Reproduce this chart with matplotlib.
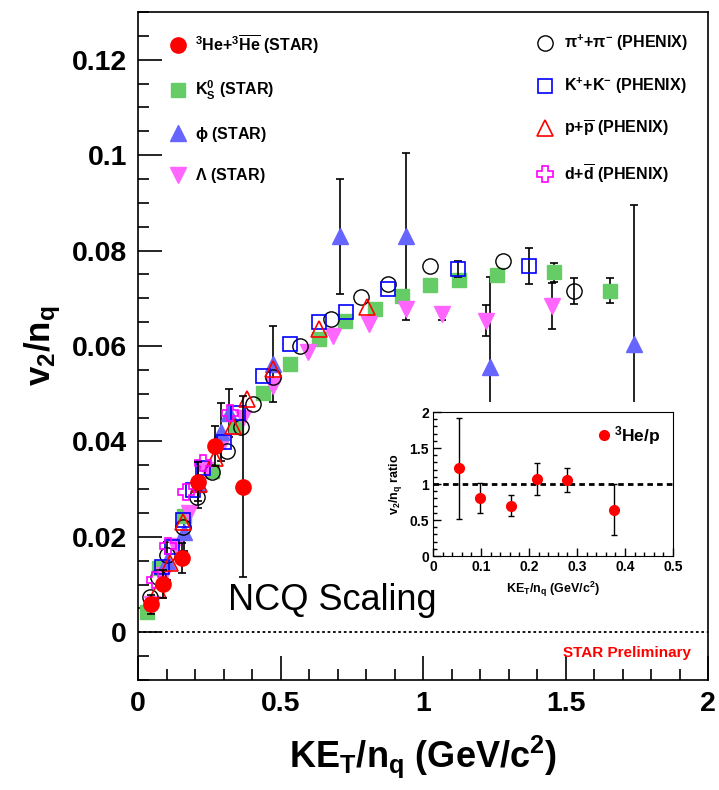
import numpy as np
import matplotlib
matplotlib.use('Agg')
import matplotlib.pyplot as plt
from matplotlib.lines import Line2D

plt.rcParams['font.family'] = ['Liberation Sans', 'DejaVu Sans']
plt.rcParams['font.weight'] = 'bold'
plt.rcParams['mathtext.fontset'] = 'custom'
plt.rcParams['mathtext.rm'] = 'Liberation Sans:bold'
plt.rcParams['mathtext.bf'] = 'Liberation Sans:bold'
plt.rcParams['mathtext.it'] = 'Liberation Sans:bold'
plt.rcParams['mathtext.default'] = 'rm'

# ---- data (0 error = no visible bar) ----
# 3He + anti-3He (STAR)
he3_x = [0.046, 0.088, 0.155, 0.211, 0.271, 0.370]
he3_y = [0.0059, 0.0101, 0.0156, 0.0316, 0.0390, 0.0305]
he3_e = [0.0020, 0.0030, 0.0032, 0.0040, 0.0042, 0.0190]

# K0s (STAR)
k0s_x = [0.032, 0.075, 0.163, 0.258, 0.345, 0.440, 0.535, 0.634, 0.725,
         0.830, 0.925, 1.025, 1.127, 1.260, 1.460, 1.655]
k0s_y = [0.0042, 0.0135, 0.0243, 0.0337, 0.0430, 0.0502, 0.0562, 0.0615,
         0.0653, 0.0678, 0.0705, 0.0728, 0.0738, 0.0748, 0.0755, 0.0716]
k0s_e = [0.0010, 0, 0, 0, 0, 0, 0, 0, 0, 0, 0, 0, 0, 0, 0.0020, 0.0026]

# phi (STAR)
phi_x = [0.100, 0.160, 0.210, 0.290, 0.320, 0.472, 0.708, 0.940, 1.236, 1.740]
phi_y = [0.0150, 0.0210, 0.0310, 0.0420, 0.0460, 0.0562, 0.0830, 0.0830,
         0.0555, 0.0605]
phi_e = [0.0040, 0.0040, 0.0050, 0.0060, 0.0050, 0.0080, 0.0120, 0.0175,
         0.0190, 0.0290]

# Lambda (STAR)
lam_x = [0.050, 0.090, 0.130, 0.180, 0.240, 0.300, 0.370, 0.472, 0.595,
         0.683, 0.810, 0.940, 1.067, 1.220, 1.454]
lam_y = [0.0060, 0.0120, 0.0180, 0.0250, 0.0340, 0.0400, 0.0450, 0.0516,
         0.0587, 0.0621, 0.0646, 0.0678, 0.0667, 0.0653, 0.0684]
lam_e = [0, 0, 0, 0, 0, 0, 0, 0, 0, 0, 0, 0, 0.0012, 0.0033, 0.0049]

# pi+ + pi- (PHENIX)
pi_x = [0.042, 0.070, 0.102, 0.158, 0.208, 0.260, 0.313, 0.360, 0.405,
        0.475, 0.570, 0.676, 0.782, 0.877, 1.025, 1.282, 1.530]
pi_y = [0.0074, 0.0116, 0.0162, 0.0221, 0.0284, 0.0335, 0.0380, 0.0430,
        0.0478, 0.0535, 0.0600, 0.0657, 0.0703, 0.0730, 0.0768, 0.0779, 0.0716]
pi_e = [0, 0, 0, 0, 0, 0, 0, 0, 0, 0, 0, 0, 0, 0, 0, 0, 0.0027]

# K+ + K- (PHENIX)
kpm_x = [0.085, 0.120, 0.158, 0.194, 0.229, 0.300, 0.352, 0.440, 0.535,
         0.634, 0.729, 0.877, 1.123, 1.373]
kpm_y = [0.0137, 0.0179, 0.0236, 0.0299, 0.0345, 0.0398, 0.0460, 0.0537,
         0.0604, 0.0650, 0.0672, 0.0720, 0.0762, 0.0768]
kpm_e = [0, 0, 0, 0, 0, 0, 0, 0, 0, 0, 0, 0, 0.0017, 0.0038]

# p + pbar (PHENIX)
p_x = [0.070, 0.113, 0.158, 0.215, 0.271, 0.335, 0.384, 0.475, 0.634, 0.803]
p_y = [0.0088, 0.0145, 0.0232, 0.0310, 0.0366, 0.0432, 0.0488, 0.0552,
       0.0636, 0.0682]

# d + dbar (PHENIX)
d_x = [0.060, 0.106, 0.170, 0.229, 0.324]
d_y = [0.0110, 0.0180, 0.0295, 0.0355, 0.0460]

# inset: 3He/p ratio
rat_x = [0.055, 0.098, 0.163, 0.217, 0.280, 0.377]
rat_y = [1.22, 0.81, 0.70, 1.07, 1.06, 0.64]
rat_lo = [0.52, 0.60, 0.55, 0.85, 0.89, 0.29]
rat_hi = [1.92, 1.02, 0.85, 1.29, 1.22, 1.00]

# ---- figure ----
W, H = 719, 790
fig = plt.figure(figsize=(W / 100, H / 100), dpi=100)
ax = fig.add_axes([138 / W, 1 - 680 / H, (708 - 138) / W, (680 - 12) / H])


def draw(x, y, e, z, **mk):
    x, y, e = np.asarray(x), np.asarray(y), np.asarray(e)
    has = e > 0
    ax.errorbar(x[has], y[has], yerr=e[has], ls='none', marker='none',
                ecolor='black', elinewidth=1.2, capsize=3, capthick=1.2,
                zorder=z - 0.5)
    ax.plot(x, y, ls='none', zorder=z, **mk)


ax.axhline(0, color='black', ls=(0, (1.5, 1.5)), lw=1.3, zorder=1)

draw(k0s_x, k0s_y, k0s_e, 3, marker='s', ms=10, mfc='#66cc66', mec='#66cc66')
draw(lam_x, lam_y, lam_e, 3, marker='v', ms=11, mfc='#ff66ff', mec='#ff66ff')
draw(phi_x, phi_y, phi_e, 3, marker='^', ms=11, mfc='#6666ff', mec='#6666ff')
draw(pi_x, pi_y, pi_e, 4, marker='o', ms=11, mfc='none', mec='black', mew=1.0)
draw(kpm_x, kpm_y, kpm_e, 4, marker='s', ms=10.5, mfc='none', mec='blue',
     mew=1.2)
ax.plot(p_x, p_y, ls='none', marker='^', ms=11, mfc='none', mec='red',
        mew=1.2, zorder=4)
ax.plot(d_x, d_y, ls='none', marker='P', ms=11, mfc='none', mec='#ff00ff',
        mew=1.2, zorder=4)
draw(he3_x, he3_y, he3_e, 5, marker='o', ms=11, mfc='red', mec='red')

ax.set_xlim(0, 2)
ax.set_ylim(-0.01, 0.13)
ax.set_xticks([0, 0.5, 1, 1.5, 2])
ax.set_xticklabels(['0', '0.5', '1', '1.5', '2'])
ax.set_yticks([0, 0.02, 0.04, 0.06, 0.08, 0.1, 0.12])
ax.set_yticklabels(['0', '0.02', '0.04', '0.06', '0.08', '0.1', '0.12'])
ax.set_xticks(np.arange(0, 2.01, 0.1), minor=True)
ax.set_yticks(np.arange(-0.01, 0.1301, 0.005), minor=True)
ax.tick_params(which='both', direction='in', top=False, right=False,
               labelsize=20.5, width=1.2)
ax.tick_params(which='major', length=17, pad=8)
ax.tick_params(which='minor', length=8)
for s in ax.spines.values():
    s.set_linewidth(1.2)
for lab in ax.get_xticklabels() + ax.get_yticklabels():
    lab.set_fontweight('bold')

ax.set_xlabel(r'KE$_{T}$/n$_{q}$ (GeV/c$^{2}$)', fontsize=26,
              fontweight='bold', labelpad=12)
ax.set_ylabel(r'v$_{2}$/n$_{q}$', fontsize=25, fontweight='bold', labelpad=6)

# legends
left_h = [
    Line2D([], [], ls='none', marker='o', ms=11, mfc='red', mec='red'),
    Line2D([], [], ls='none', marker='s', ms=10, mfc='#66cc66', mec='#66cc66'),
    Line2D([], [], ls='none', marker='^', ms=11, mfc='#6666ff', mec='#6666ff'),
    Line2D([], [], ls='none', marker='v', ms=11, mfc='#ff66ff', mec='#ff66ff'),
]
left_l = [r'$^{3}$He+$^{3}\overline{\mathrm{He}}$ (STAR)',
          r'K$_{S}^{0}$ (STAR)', r'$\phi$ (STAR)', r'$\Lambda$ (STAR)']
right_h = [
    Line2D([], [], ls='none', marker='o', ms=11, mfc='none', mec='black'),
    Line2D([], [], ls='none', marker='s', ms=10.5, mfc='none', mec='blue', mew=1.2),
    Line2D([], [], ls='none', marker='^', ms=11, mfc='none', mec='red', mew=1.2),
    Line2D([], [], ls='none', marker='P', ms=11, mfc='none', mec='#ff00ff', mew=1.2),
]
right_l = [r'$\pi^{+}$+$\pi^{-}$ (PHENIX)', r'K$^{+}$+K$^{-}$ (PHENIX)',
           r'p+$\overline{\mathrm{p}}$ (PHENIX)',
           r'd+$\overline{\mathrm{d}}$ (PHENIX)']
leg1 = ax.legend(left_h, left_l, loc='upper left', bbox_to_anchor=(0.028, 0.99),
                 frameon=False, prop={'weight': 'bold', 'size': 11.5},
                 labelspacing=1.42, handletextpad=0.5, handlelength=1.2)
ax.add_artist(leg1)
ax.legend(right_h, right_l, loc='upper left', bbox_to_anchor=(0.672, 0.99),
          frameon=False, prop={'weight': 'bold', 'size': 11.5},
          labelspacing=1.42, handletextpad=0.6, handlelength=1.2)

# white pad behind inset
pad = fig.add_axes([392 / W, 1 - 598 / H, (702 - 392) / W, (598 - 402) / H])
pad.set_xticks([])
pad.set_yticks([])
for s in pad.spines.values():
    s.set_visible(False)
pad.set_facecolor('white')

# inset
ins = fig.add_axes([433 / W, 1 - 556 / H, (673 - 433) / W, (556 - 412) / H])
yerr = [np.array(rat_y) - np.array(rat_lo), np.array(rat_hi) - np.array(rat_y)]
ins.axhline(1, color='black', ls=(0, (2, 1.5)), lw=2, zorder=1)
ins.errorbar(rat_x, rat_y, yerr=yerr, ls='none', marker='o', ms=7,
             mfc='red', mec='red', ecolor='black', elinewidth=1,
             capsize=2.5, capthick=1, zorder=3)
ins.set_xlim(0, 0.5)
ins.set_ylim(0, 2)
ins.set_xticks([0, 0.1, 0.2, 0.3, 0.4, 0.5])
ins.set_xticklabels(['0', '0.1', '0.2', '0.3', '0.4', '0.5'])
ins.set_yticks([0, 0.5, 1, 1.5, 2])
ins.set_yticklabels(['0', '0.5', '1', '1.5', '2'])
ins.set_xticks(np.arange(0, 0.501, 0.02), minor=True)
ins.set_yticks(np.arange(0, 2.01, 0.1), minor=True)
ins.tick_params(which='both', direction='in', labelsize=10, width=1)
ins.tick_params(which='major', length=6, pad=3)
ins.tick_params(which='minor', length=3)
for lab in ins.get_xticklabels() + ins.get_yticklabels():
    lab.set_fontweight('bold')
ins.set_xlabel(r'KE$_{T}$/n$_{q}$ (GeV/c$^{2}$)', fontsize=9,
               fontweight='bold', labelpad=4)
ins.set_ylabel(r'v$_{2}$/n$_{q}$ ratio', fontsize=9, fontweight='bold',
               labelpad=4)
ins.legend([Line2D([], [], ls='none', marker='o', ms=7, mfc='red', mec='red')],
           [r'$^{3}$He/p'], loc='upper right', frameon=False,
           prop={'weight': 'bold', 'size': 12.5},
           handletextpad=0.1, handlelength=1.0, borderaxespad=0.3)

fig.text(332 / W, 1 - 600 / H, 'NCQ Scaling', fontsize=26, fontweight='normal',
         ha='center', va='center')
fig.text(627 / W, 1 - 653 / H, 'STAR Preliminary', fontsize=11, color='red',
         fontweight='bold', ha='center', va='center')

fig.savefig('out.png', dpi=100)
